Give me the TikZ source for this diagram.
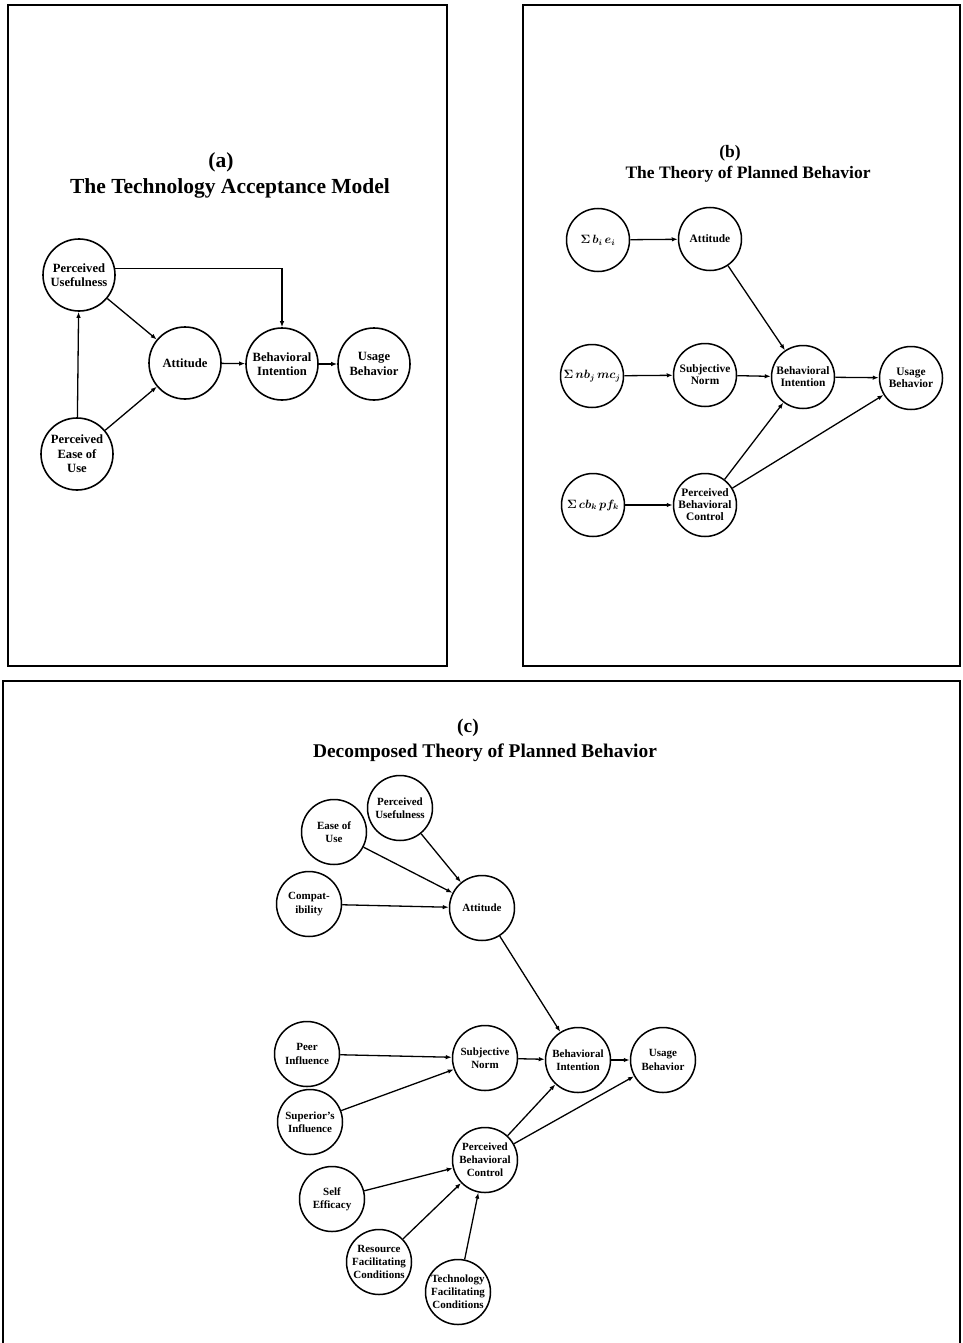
\documentclass[tikz,border=0pt]{standalone}
\usepackage{bm}
\usepackage{fontspec}
\setmainfont{Liberation Serif}
\usetikzlibrary{arrows.meta}
\newcommand{\sumlab}[1]{\fontsize{12}{13}\selectfont$\bm{\Sigma}\,\bm{#1}$}
\begin{document}
\begin{tikzpicture}[x=1pt,y=-1pt,
  panel/.style={draw, line width=2pt},
  tam/.style={circle, draw, line width=1.6pt, minimum size=72pt, inner sep=0pt, align=center,
    font=\fontsize{12.6}{14.5}\selectfont\bfseries},
  tpb/.style={circle, draw, line width=1.5pt, minimum size=63pt, inner sep=0pt, align=center,
    font=\fontsize{11.4}{12}\selectfont\bfseries},
  dec/.style={circle, draw, line width=1.5pt, minimum size=65pt, inner sep=0pt, align=center,
    font=\fontsize{11}{13.2}\selectfont\bfseries},
  arr/.style={-{Latex[length=6pt,width=4.5pt]}, line width=1.3pt},
  ttl/.style={inner sep=0pt}
]
\useasboundingbox (0,0) rectangle (962,1343);
\clip (0,0) rectangle (962,1343);
\fill[white] (0,0) rectangle (962,1343);

% ---------- panel boxes ----------
\draw[panel] (8,5) rectangle (447,666);
\draw[panel] (523,5) rectangle (960,666);
\draw[panel] (3,1345) -- (3,681) -- (960,681) -- (960,1345);

% ---------- (a) TAM ----------
\node[ttl, font=\fontsize{21.5}{24}\selectfont\bfseries] (alab) at (221,162) {(a)};
\node[ttl, font=\fontsize{21.5}{24}\selectfont\bfseries] (atitle) at (230,188) {The Technology Acceptance Model};

\node[tam] (aPU)  at (79,275)  {Perceived\\Usefulness};
\node[tam] (aPEU) at (77,454)  {Perceived\\Ease of\\Use};
\node[tam] (aATT) at (185,363) {Attitude};
\node[tam] (aBI)  at (282,364) {Behavioral\\Intention};
\node[tam] (aUB)  at (374,364) {Usage\\Behavior};

\draw[arr] (aPU.10) -| (aBI.north);
\draw[arr] (aPU) -- (aATT);
\draw[arr] (aPEU) -- (aATT);
\draw[arr] (aPEU) -- (aPU);
\draw[arr] (aATT) -- (aBI);
\draw[arr] (aBI) -- (aUB);

% ---------- (b) TPB ----------
\node[ttl, font=\fontsize{17.5}{20}\selectfont\bfseries] (blab) at (730,153) {(b)};
\node[ttl, font=\fontsize{17.5}{20}\selectfont\bfseries] (btitle) at (748,174) {The Theory of Planned Behavior};

\node[tpb] (bBE)  at (598,240) {\sumlab{b_i\, e_i}};
\node[tpb] (bATT) at (710,239) {Attitude};
\node[tpb] (bNM)  at (592,376) {\sumlab{nb_j\, mc_j}};
\node[tpb] (bSN)  at (705,375) {Subjective\\Norm};
\node[tpb] (bBI)  at (803,377) {Behavioral\\Intention};
\node[tpb] (bUB)  at (911,378) {Usage\\Behavior};
\node[tpb] (bCP)  at (593,505) {\sumlab{cb_k\, pf_k}};
\node[tpb] (bPBC) at (705,505) {Perceived\\Behavioral\\Control};

\draw[arr] (bBE) -- (bATT);
\draw[arr] (bNM) -- (bSN);
\draw[arr] (bCP) -- (bPBC);
\draw[arr] (bATT) -- (bBI);
\draw[arr] (bSN) -- (bBI);
\draw[arr] (bPBC) -- (bBI);
\draw[arr] (bBI) -- (bUB);
\draw[arr] (bPBC) -- (bUB);

% ---------- (c) Decomposed TPB ----------
\node[ttl, font=\fontsize{19.4}{22}\selectfont\bfseries] (clab) at (468,728) {(c)};
\node[ttl, font=\fontsize{19.4}{22}\selectfont\bfseries] (ctitle) at (485,753) {Decomposed Theory of Planned Behavior};

\node[dec] (cPU)  at (400,808)  {Perceived\\Usefulness};
\node[dec] (cEU)  at (334,832)  {Ease of\\Use};
\node[dec] (cCO)  at (309,904)  {Compat-\\ibility};
\node[dec] (cATT) at (482,908)  {Attitude};
\node[dec] (cPI)  at (307,1054) {Peer\\Influence};
\node[dec] (cSN)  at (485,1058) {Subjective\\Norm};
\node[dec] (cBI)  at (578,1060) {Behavioral\\Intention};
\node[dec] (cUB)  at (663,1060) {Usage\\Behavior};
\node[dec] (cSI)  at (310,1122) {Superior's\\Influence};
\node[dec] (cPBC) at (485,1160) {Perceived\\Behavioral\\Control};
\node[dec] (cSE)  at (332,1199) {Self\\Efficacy};
\node[dec] (cRF)  at (379,1262) {Resource\\Facilitating\\Conditions};
\node[dec] (cTF)  at (458,1292) {Technology\\Facilitating\\Conditions};

\draw[arr] (cPU) -- (cATT);
\draw[arr] (cEU) -- (cATT);
\draw[arr] (cCO) -- (cATT);
\draw[arr] (cATT) -- (cBI);
\draw[arr] (cPI) -- (cSN);
\draw[arr] (cSI) -- (cSN);
\draw[arr] (cSN) -- (cBI);
\draw[arr] (cBI) -- (cUB);
\draw[arr] (cPBC) -- (cBI);
\draw[arr] (cPBC) -- (cUB);
\draw[arr] (cSE) -- (cPBC);
\draw[arr] (cRF) -- (cPBC);
\draw[arr] (cTF) -- (cPBC);
\end{tikzpicture}
\end{document}
